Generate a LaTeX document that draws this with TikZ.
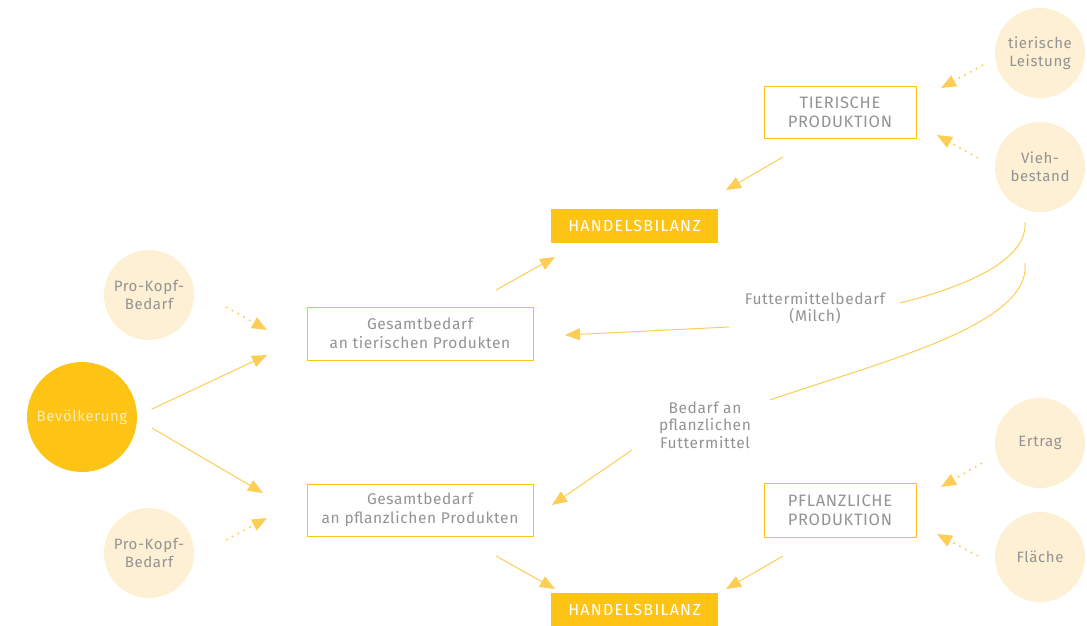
\documentclass[tikz,border=0pt]{standalone}
\usepackage{fontspec}
\setmainfont{Fira Sans}[LetterSpace=4]
\usetikzlibrary{arrows.meta}
\definecolor{gold}{HTML}{FDC416}
\definecolor{lgold}{HTML}{FDCD55}
\definecolor{cream}{HTML}{FEF0D4}
\definecolor{txt}{HTML}{939393}
\definecolor{btxt}{HTML}{FDEBB0}
\tikzset{
  lightcirc/.style={circle,fill=cream,minimum size=90pt,inner sep=0pt,align=center,text=txt,font=\fontsize{15}{18}\selectfont},
  bigcirc/.style={circle,fill=gold,minimum size=110pt,inner sep=0pt,text=btxt,font=\fontsize{15}{18}\selectfont},
  boxed/.style={draw=gold,line width=1pt,inner sep=0pt,align=center,text=txt,font=\fontsize{15.5}{18.5}\selectfont},
  capsbox/.style={boxed,font=\fontsize{16.5}{19}\selectfont},
  hbox/.style={fill=gold,inner sep=0pt,minimum width=167pt,minimum height=34pt,text=white,font=\fontsize{16}{18}\selectfont\addfontfeature{LetterSpace=8}},
  lbl/.style={align=center,text=txt,font=\fontsize{15.5}{17.5}\selectfont},
  conn/.style={draw=lgold,line width=1pt,-{Triangle[length=15pt,width=12pt]}},
  dotconn/.style={draw=lgold,line width=1.6pt,dash pattern=on 1.6pt off 5pt,-{Triangle[length=15pt,width=12pt]}},
  plain/.style={draw=lgold,line width=1pt},
}
\begin{document}
\begin{tikzpicture}[x=1pt,y=-1pt]
\useasboundingbox (0,0) rectangle (1087,625);
% nodes
\node[lightcirc] (leist) at (1040,53) {tierische\\Leistung};
\node[lightcirc] (vieh) at (1040,167) {Vieh-\\bestand};
\node[lightcirc] (ertrag) at (1040,443) {Ertrag};
\node[lightcirc] (flaeche) at (1040,557) {Fläche};
\node[lightcirc] (pk1) at (149,295) {Pro-Kopf-\\Bedarf};
\node[lightcirc] (pk2) at (149,553) {Pro-Kopf-\\Bedarf};
\node[bigcirc] (bev) at (82,417) {Bevölkerung};
\node[capsbox,minimum width=152pt,minimum height=52pt] (tp) at (840,112) {TIERISCHE\\PRODUKTION};
\node[capsbox,minimum width=152pt,minimum height=54pt] (pp) at (840,510) {PFLANZLICHE\\PRODUKTION};
\node[boxed,minimum width=226pt,minimum height=53pt] (gbt) at (420,333.5) {Gesamtbedarf\\an tierischen Produkten};
\node[boxed,minimum width=226pt,minimum height=52pt] (gbp) at (420,510) {Gesamtbedarf\\an pflanzlichen Produkten};
\node[hbox] (hb1) at (634.5,226) {HANDELSBILANZ};
\node[hbox] (hb2) at (634.5,610) {HANDELSBILANZ};
\node[lbl] (fm) at (815,308) {Futtermittelbedarf\\(Milch)};
\node[lbl] (bpf) at (705,425) {Bedarf an\\pflanzlichen\\Futtermittel};
% connector end points
\coordinate (leistA) at (983,65); \coordinate (tpA) at (941,88);
\coordinate (viehA) at (978,158); \coordinate (tpB) at (937,135);
\coordinate (tpC) at (783,157); \coordinate (hb1A) at (726,190);
\coordinate (gbtA) at (496,290); \coordinate (hb1B) at (555,257);
\coordinate (pk1A) at (226,307); \coordinate (gbtB) at (267,330);
\coordinate (bevA) at (152,409); \coordinate (gbtC) at (267,355);
\coordinate (bevB) at (152,428); \coordinate (gbpA) at (263,493);
\coordinate (pk2A) at (226,540); \coordinate (gbpB) at (267,518);
\coordinate (viehB) at (1025,222); \coordinate (fmA) at (900,303);
\coordinate (fmB) at (729,327); \coordinate (gbtD) at (565,335);
\coordinate (viehC) at (1025,263); \coordinate (bpfA) at (770,400);
\coordinate (bpfB) at (632,450); \coordinate (gbpC) at (552,505);
\coordinate (ertragA) at (982,463); \coordinate (ppA) at (941,487);
\coordinate (flaecheA) at (978,556); \coordinate (ppB) at (937,534);
\coordinate (ppC) at (783,556); \coordinate (hb2A) at (726,589);
\coordinate (gbpD) at (496,556); \coordinate (hb2B) at (555,589);
% connectors
\draw[dotconn] (leistA) -- (tpA);
\draw[dotconn] (viehA) -- (tpB);
\draw[conn] (tpC) -- (hb1A);
\draw[conn] (gbtA) -- (hb1B);
\draw[dotconn] (pk1A) -- (gbtB);
\draw[conn] (bevA) -- (gbtC);
\draw[conn] (bevB) -- (gbpA);
\draw[dotconn] (pk2A) -- (gbpB);
\draw[plain] (viehB) .. controls (1028,262) and (960,288) .. (fmA);
\draw[conn] (fmB) -- (gbtD);
\draw[plain] (viehC) .. controls (1032,325) and (880,362) .. (bpfA);
\draw[conn] (bpfB) -- (gbpC);
\draw[dotconn] (ertragA) -- (ppA);
\draw[dotconn] (flaecheA) -- (ppB);
\draw[conn] (ppC) -- (hb2A);
\draw[conn] (gbpD) -- (hb2B);
\end{tikzpicture}
\end{document}
